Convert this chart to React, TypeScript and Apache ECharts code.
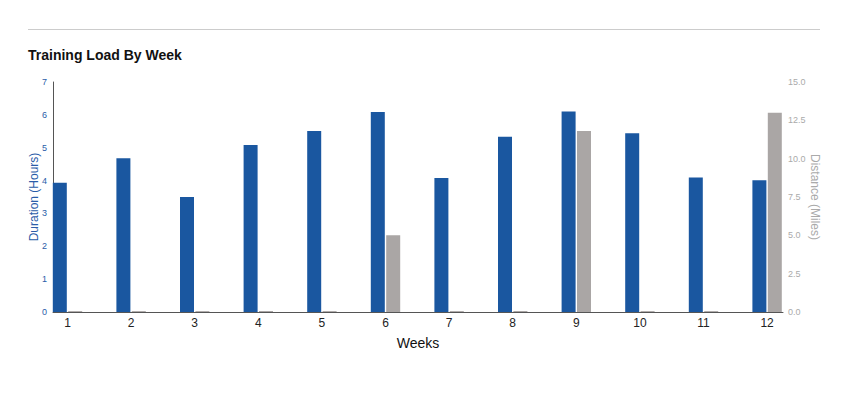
import React, { useEffect, useRef } from "react";
import * as echarts from "echarts";

const weeks = [1, 2, 3, 4, 5, 6, 7, 8, 9, 10, 11, 12];
const durationHours = [3.93, 4.68, 3.5, 5.08, 5.51, 6.09, 4.08, 5.33, 6.1, 5.44, 4.09, 4.01];
const distanceMiles = [0.06, 0.06, 0.06, 0.06, 0.06, 5.0, 0.06, 0.06, 11.8, 0.06, 0.06, 13.0];
const durationTicks = [0, 1, 2, 3, 4, 5, 6, 7];
const distanceTicks = [0, 2.5, 5, 7.5, 10, 12.5, 15];

const FONT = "'Liberation Sans', Arial, Helvetica, sans-serif";

export default function App() {
  const ref = useRef<HTMLDivElement>(null);
  useEffect(() => {
    if (!ref.current) return;
    const chart = echarts.init(ref.current, undefined, { renderer: "svg" });
    chart.setOption({
      animation: false,
      textStyle: { fontFamily: FONT },
      title: {
        text: "Training Load By Week",
        left: 15,
        top: 35,
        textStyle: { fontFamily: FONT, fontSize: 14, fontWeight: "bold", color: "#111" },
      },
      graphic: [
        {
          type: "line",
          shape: { x1: 20, y1: 21.5, x2: 812, y2: 21.5 },
          style: { stroke: "#cccccc", lineWidth: 1 },
        },
      ],
      grid: { left: 45, right: 55, top: 74, bottom: 73 },
      xAxis: {
        type: "value",
        min: 0.772,
        max: 12.25,
        name: "Weeks",
        nameLocation: "middle",
        nameGap: 24,
        nameTextStyle: { fontFamily: FONT, fontSize: 14, color: "#111" },
        splitLine: { show: false },
        axisTick: { show: false },
        axisLine: { lineStyle: { color: "#555", width: 1 } },
        axisLabel: {
          customValues: weeks,
          fontFamily: FONT,
          fontSize: 12,
          color: "#222",
          margin: 5,
          formatter: (v: number) => String(v),
        },
      },
      yAxis: [
        {
          type: "value",
          min: 0,
          max: 7,
          interval: 1,
          name: "Duration (Hours)",
          nameLocation: "middle",
          nameGap: 13,
          nameMoveOverlap: false,
          nameRotate: 90,
          nameTextStyle: { fontFamily: FONT, fontSize: 12, color: "#2a5ca8" },
          axisLine: { show: true, lineStyle: { color: "#555", width: 1 } },
          axisTick: { show: false },
          splitLine: { show: false },
          axisLabel: {
            customValues: durationTicks,
            fontFamily: FONT,
            fontSize: 9,
            color: "#2a5ca8",
            margin: 6,
          },
        },
        {
          type: "value",
          min: 0,
          max: 15,
          interval: 2.5,
          position: "right",
          name: "Distance (Miles)",
          nameLocation: "middle",
          nameGap: 26,
          nameMoveOverlap: false,
          nameRotate: -90,
          nameTextStyle: { fontFamily: FONT, fontSize: 12, color: "#aaaaaa" },
          axisLine: { show: false },
          axisTick: { show: false },
          splitLine: { show: false },
          axisLabel: {
            customValues: distanceTicks,
            fontFamily: FONT,
            fontSize: 9,
            color: "#aaaaaa",
            margin: 5,
            formatter: (v: number) => v.toFixed(1),
          },
        },
      ],
      series: [
        {
          name: "Duration",
          type: "bar",
          yAxisIndex: 0,
          barWidth: 14,
          barGap: "10%",
          itemStyle: { color: "#1a57a0" },
          data: weeks.map((w, i) => [w, durationHours[i]]),
        },
        {
          name: "Distance",
          type: "bar",
          yAxisIndex: 1,
          barWidth: 14,
          barGap: "10%",
          itemStyle: { color: "#aaa6a5" },
          data: weeks.map((w, i) => [w, distanceMiles[i]]),
        },
      ],
    });
    return () => chart.dispose();
  }, []);
  return <div ref={ref} style={{ width: 830, height: 377 }} />;
}
